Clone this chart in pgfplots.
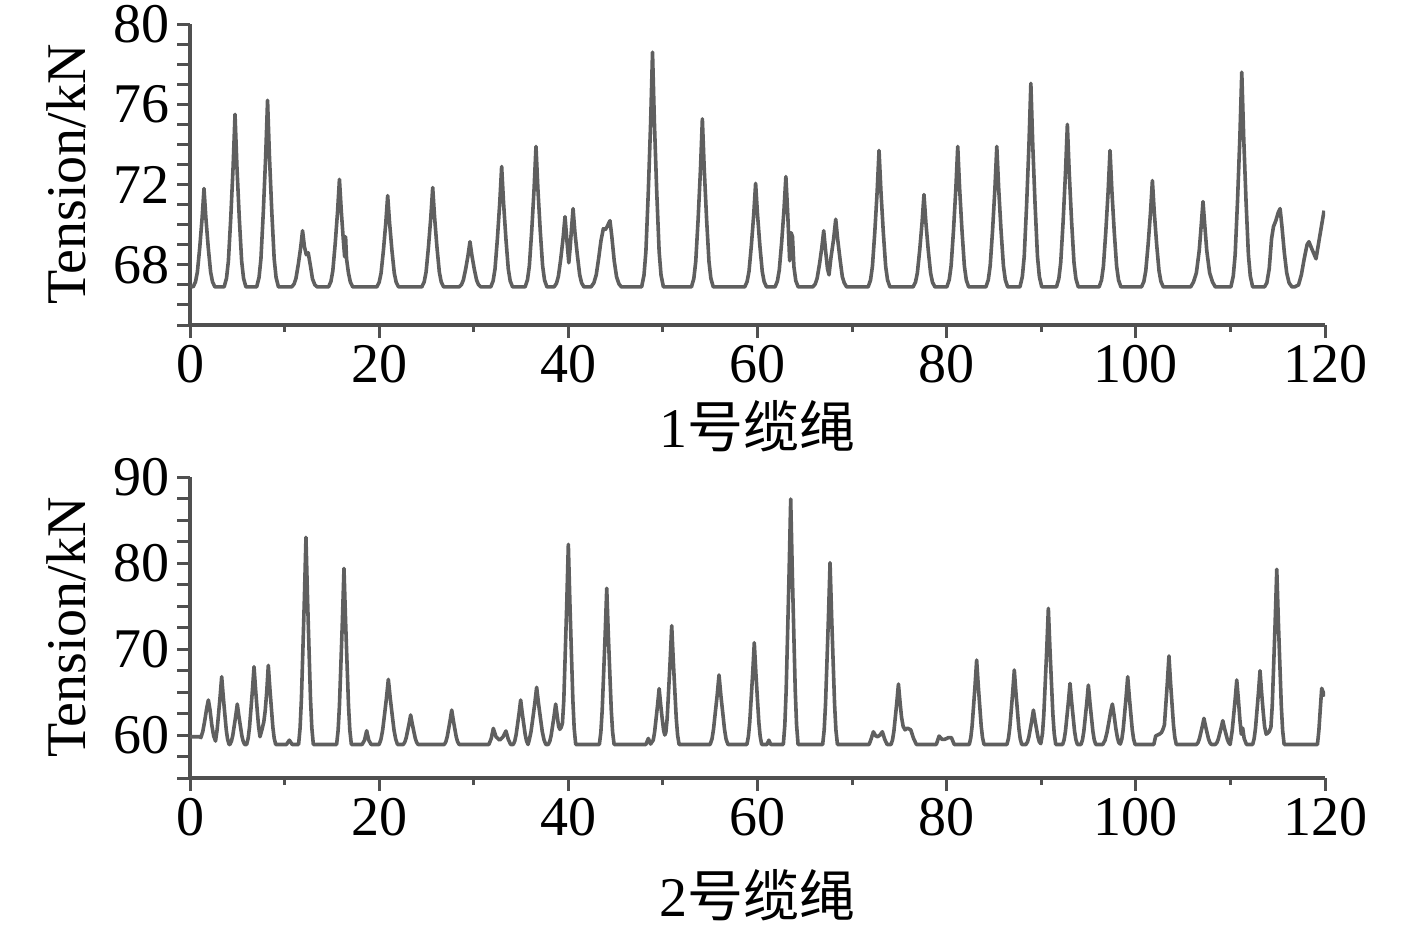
\documentclass[border=0pt]{standalone}
\usepackage{fontspec}
\setmainfont{Liberation Serif}
\newfontfamily\cjk{Noto Sans CJK SC}
\usepackage{pgfplots}
\pgfplotsset{compat=1.18}
\definecolor{curve}{RGB}{95,95,95}
\definecolor{axc}{RGB}{80,80,80}
\pgfplotsset{myaxis/.style={
  scale only axis, width=567.5pt, height=150.5pt,
  xmin=0, xmax=120, axis x line*=bottom, axis y line*=left,
  axis line style={axc, line width=1.8pt},
  tick align=outside, major tick length=6.5pt, minor tick length=3.5pt,
  tick style={axc, line width=1.5pt},
  xtick={0,20,40,60,80,100,120}, minor xtick={10,30,50,70,90,110},
  ticklabel style={font=\fontsize{28}{30}\selectfont, text=black},
  /pgf/number format/assume math mode=true,
  label style={font=\fontsize{28}{30}\selectfont},
  ylabel={Tension/kN}, ylabel shift=7pt,
}}
\begin{document}
\begin{tikzpicture}
\useasboundingbox (0,0) rectangle (708.5pt,-463.5pt);
\begin{axis}[myaxis, at={(95pt,-162.5pt)}, anchor=south west,
  ymin=65, ymax=80,
  ytick={65,66,67,68,69,70,71,72,73,74,75,76,77,78,79,80},
  yticklabels={,,,68,,,,72,,,,76,,,,80},
  xlabel shift=2pt,
  xlabel={1{\cjk 号缆绳}}]
\addplot[curve, line width=1.8pt, line join=round, no markers] coordinates {
(0,66.95) (0.33,66.9) (0.58,67.15) (0.78,67.64) (1.03,68.86) (1.28,70.33) (1.48,71.8) (1.68,70.33) (1.93,68.86) (2.18,67.64) (2.38,67.15) (2.63,66.9)
(3.61,66.9) (3.86,67.33) (4.06,68.19) (4.31,70.34) (4.56,72.92) (4.76,75.5) (4.96,72.92) (5.21,70.34) (5.46,68.19) (5.66,67.33) (5.91,66.9)
(7.05,66.9) (7.3,67.37) (7.5,68.3) (7.75,70.62) (8.0,73.41) (8.2,76.2) (8.4,73.41) (8.65,70.62) (8.9,68.3) (9.1,67.37) (9.35,66.9)
(10.75,66.9) (11.0,67.04) (11.2,67.32) (11.45,68.02) (11.7,68.86) (11.9,69.7) (12.1,68.9) (12.3,68.5) (12.5,68.6) (12.75,67.9) (12.95,67.3) (13.2,67.0) (13.45,66.9)
(14.65,66.9) (14.9,67.17) (15.1,67.7) (15.35,69.04) (15.6,70.65) (15.8,72.26) (16.0,70.65) (16.2,69.3) (16.35,68.4) (16.45,69.4) (16.55,68.3) (16.75,67.6) (16.95,67.15) (17.2,66.9)
(19.75,66.9) (20.0,67.13) (20.2,67.58) (20.45,68.72) (20.7,70.09) (20.9,71.45) (21.1,70.09) (21.35,68.72) (21.6,67.58) (21.8,67.13) (22.05,66.9)
(24.51,66.9) (24.76,67.15) (24.96,67.64) (25.21,68.88) (25.46,70.37) (25.66,71.85) (25.86,70.37) (26.11,68.88) (26.36,67.64) (26.56,67.15) (26.81,66.9)
(28.45,66.9) (28.7,67.01) (28.9,67.24) (29.15,67.8) (29.4,68.48) (29.6,69.15) (29.8,68.48) (30.05,67.8) (30.3,67.24) (30.5,67.01) (30.75,66.9)
(31.8,66.9) (32.05,67.2) (32.25,67.8) (32.5,69.3) (32.75,71.1) (32.95,72.9) (33.15,71.1) (33.4,69.3) (33.65,67.8) (33.85,67.2) (34.1,66.9)
(35.43,66.9) (35.68,67.25) (35.88,67.95) (36.13,69.7) (36.38,71.8) (36.58,73.9) (36.78,71.8) (37.03,69.7) (37.28,67.95) (37.48,67.25) (37.73,66.9)
(38.5,66.9) (38.75,67.08) (38.95,67.43) (39.2,68.3) (39.45,69.35) (39.65,70.4) (39.85,69.2) (40.05,68.1) (40.2,68.9) (40.35,69.9) (40.5,70.8) (40.7,69.6) (40.95,68.5) (41.2,67.5) (41.4,67.1) (41.65,66.9)
(42.4,66.9) (42.7,67.1) (42.95,67.5) (43.2,68.3) (43.45,69.2) (43.7,69.8) (43.9,69.75) (44.1,69.9) (44.4,70.2) (44.6,69.4) (44.85,68.2) (45.1,67.4) (45.35,67.05) (45.6,66.9)
(47.75,66.9) (48.0,67.49) (48.2,68.66) (48.45,71.58) (48.7,75.09) (48.9,78.6) (49.1,75.09) (49.35,71.58) (49.6,68.66) (49.8,67.49) (50.05,66.9)
(53.02,66.9) (53.27,67.32) (53.47,68.16) (53.72,70.25) (53.97,72.76) (54.17,75.27) (54.37,72.76) (54.62,70.25) (54.87,68.16) (55.07,67.32) (55.32,66.9)
(58.65,66.9) (58.9,67.16) (59.1,67.67) (59.35,68.96) (59.6,70.51) (59.8,72.06) (60.0,70.51) (60.25,68.96) (60.5,67.67) (60.7,67.16) (60.95,66.9)
(61.85,66.9) (62.1,67.18) (62.3,67.73) (62.55,69.1) (62.8,70.75) (63.0,72.4) (63.2,70.5) (63.4,68.2) (63.55,69.6) (63.7,69.4) (63.85,67.9) (64.05,67.2) (64.3,66.9)
(65.85,66.9) (66.1,67.04) (66.3,67.32) (66.55,68.02) (66.8,68.86) (67.0,69.7) (67.2,68.7) (67.4,67.8) (67.56,67.5) (67.75,68.3) (68.05,69.3) (68.27,70.27) (68.47,69.3) (68.72,68.3) (68.97,67.4) (69.17,67.1) (69.42,66.9)
(71.7,66.9) (71.95,67.24) (72.15,67.92) (72.4,69.62) (72.65,71.66) (72.85,73.7) (73.05,71.66) (73.3,69.62) (73.55,67.92) (73.75,67.24) (74.0,66.9)
(76.45,66.9) (76.7,67.13) (76.9,67.59) (77.15,68.74) (77.4,70.12) (77.6,71.5) (77.8,70.12) (78.05,68.74) (78.3,67.59) (78.5,67.13) (78.75,66.9)
(80.02,66.9) (80.27,67.25) (80.47,67.95) (80.72,69.7) (80.97,71.8) (81.17,73.9) (81.37,71.8) (81.62,69.7) (81.87,67.95) (82.07,67.25) (82.32,66.9)
(84.15,66.9) (84.4,67.25) (84.6,67.95) (84.85,69.7) (85.1,71.8) (85.3,73.9) (85.5,71.8) (85.75,69.7) (86.0,67.95) (86.2,67.25) (86.45,66.9)
(87.75,66.9) (88.0,67.41) (88.2,68.42) (88.45,70.96) (88.7,74.0) (88.9,77.04) (89.1,74.0) (89.35,70.96) (89.6,68.42) (89.8,67.41) (90.05,66.9)
(91.61,66.9) (91.86,67.31) (92.06,68.12) (92.31,70.14) (92.56,72.57) (92.76,75.0) (92.96,72.57) (93.21,70.14) (93.46,68.12) (93.66,67.31) (93.91,66.9)
(96.12,66.9) (96.37,67.24) (96.57,67.92) (96.82,69.62) (97.07,71.66) (97.27,73.7) (97.47,71.66) (97.72,69.62) (97.97,67.92) (98.17,67.24) (98.42,66.9)
(100.6,66.9) (100.85,67.17) (101.05,67.7) (101.3,69.02) (101.55,70.61) (101.75,72.2) (101.95,70.61) (102.2,69.02) (102.45,67.7) (102.65,67.17) (102.9,66.9)
(105.8,66.9) (106.1,67.15) (106.4,67.6) (106.7,68.7) (106.9,69.9) (107.1,71.15) (107.3,69.9) (107.5,68.7) (107.8,67.6) (108.1,67.15) (108.4,66.9)
(110.05,66.9) (110.3,67.44) (110.5,68.5) (110.75,71.18) (111.0,74.39) (111.2,77.6) (111.4,74.39) (111.65,71.18) (111.9,68.5) (112.1,67.44) (112.35,66.9)
(113.6,66.9) (113.85,67.1) (114.1,67.8) (114.35,69.3) (114.55,69.9) (114.8,70.2) (115.05,70.6) (115.25,70.8) (115.45,69.9) (115.7,68.6) (115.95,67.6) (116.2,67.1) (116.5,66.9) (116.8,66.9)
(117.2,67.0) (117.5,67.5) (117.8,68.3) (118.1,69.0) (118.3,69.15) (118.6,68.8) (119.05,68.3) (119.4,69.3) (119.9,70.7)
};
\end{axis}
\begin{axis}[myaxis, at={(95pt,-389pt)}, anchor=south west,
  ymin=55, ymax=90,
  ytick={55,57.5,60,62.5,65,67.5,70,72.5,75,77.5,80,82.5,85,87.5,90},
  yticklabels={,,60,,,,70,,,,80,,,,90},
  xlabel shift=10pt,
  xlabel={2{\cjk 号缆绳}}]
\addplot[curve, line width=1.8pt, line join=round, no markers] coordinates {
(0,59.8) (1.0,59.8) (1.15,59.7) (1.35,60.4) (1.55,61.6) (1.75,63.0) (1.94,64.07) (2.12,62.9) (2.3,61.2) (2.5,59.9) (2.7,59.3)
(2.87,60.63) (3.02,62.45) (3.18,64.42) (3.35,66.78) (3.52,64.42) (3.68,62.45) (3.83,60.63) (3.97,59.53) (4.13,58.9)
(4.22,58.9) (4.38,59.28) (4.52,59.93) (4.67,61.02) (4.83,62.19) (5.0,63.6) (5.17,62.19) (5.33,61.02) (5.48,59.93) (5.62,59.28) (5.78,58.9)
(5.99,58.9) (6.15,59.62) (6.29,60.89) (6.44,62.97) (6.6,65.23) (6.77,67.94) (6.94,65.23) (7.1,62.97) (7.25,61.0) (7.4,59.8)
(7.6,60.6) (7.8,61.5) (7.95,62.8) (8.11,65.0) (8.28,68.1) (8.45,65.34) (8.61,63.04) (8.76,60.92) (8.9,59.64) (9.06,58.9)
(10.2,58.9) (10.5,59.4) (10.8,58.9)
(11.48,58.9) (11.64,60.83) (11.78,64.2) (11.93,69.74) (12.09,75.76) (12.26,82.99) (12.43,75.76) (12.59,69.74) (12.74,64.2) (12.88,60.83) (13.04,58.9)
(15.5,58.9) (15.66,60.54) (15.8,63.41) (15.95,68.12) (16.11,73.24) (16.28,79.38) (16.45,73.24) (16.61,68.12) (16.76,63.41) (16.9,60.54) (17.06,58.9)
(18.2,58.9) (18.45,59.4) (18.68,60.5) (18.9,59.4) (19.15,58.9)
(20.0,58.9) (20.19,59.51) (20.37,60.57) (20.56,62.31) (20.76,64.2) (20.97,66.47) (21.18,64.2) (21.38,62.31) (21.57,60.57) (21.75,59.51) (21.94,58.9)
(22.55,58.9) (22.71,59.17) (22.85,59.65) (23.0,60.44) (23.16,61.3) (23.33,62.33) (23.5,61.3) (23.66,60.44) (23.81,59.65) (23.95,59.17) (24.11,58.9)
(26.89,58.9) (27.05,59.22) (27.19,59.78) (27.34,60.7) (27.5,61.7) (27.67,62.9) (27.84,61.7) (28.0,60.7) (28.15,59.78) (28.29,59.22) (28.45,58.9)
(31.6,58.9) (31.85,59.6) (32.07,60.77) (32.35,59.8) (32.75,59.4) (33.1,59.8) (33.4,60.47) (33.65,59.5) (33.9,58.9)
(34.18,58.9) (34.34,59.31) (34.48,60.04) (34.63,61.23) (34.79,62.52) (34.96,64.07) (35.13,62.52) (35.29,61.23) (35.44,60.04) (35.58,59.31) (35.74,58.9)
(35.87,59.43) (36.05,60.36) (36.24,61.89) (36.44,63.56) (36.65,65.55) (36.86,63.56) (37.06,61.89) (37.25,60.36) (37.43,59.43) (37.62,58.9)
(37.88,58.9) (38.04,59.28) (38.18,59.93) (38.33,61.02) (38.49,62.19) (38.66,63.6) (38.83,62.19) (38.97,61.0) (39.1,60.66)
(39.25,60.9) (39.38,61.4) (39.52,64.02) (39.67,69.37) (39.83,75.19) (40.0,82.17) (40.17,75.19) (40.33,69.37) (40.48,64.02) (40.62,60.76) (40.78,58.9)
(43.28,58.9) (43.44,60.35) (43.58,62.9) (43.73,67.07) (43.89,71.61) (44.06,77.06) (44.23,71.61) (44.39,67.07) (44.54,62.9) (44.68,60.35) (44.84,58.9)
(48.2,58.9) (48.46,59.6) (48.7,58.95)
(48.98,59.42) (49.12,60.33) (49.27,61.83) (49.43,63.45) (49.6,65.4) (49.77,63.45) (49.93,61.83) (50.08,60.5) (50.2,60.0)
(50.31,60.3) (50.45,61.94) (50.6,65.11) (50.76,68.57) (50.93,72.71) (51.1,68.57) (51.26,65.11) (51.41,61.94) (51.55,60.0) (51.71,58.9)
(54.99,58.9) (55.19,59.55) (55.35,60.68) (55.53,62.54) (55.73,64.56) (55.93,66.98) (56.13,64.56) (56.33,62.54) (56.51,60.68) (56.67,59.55) (56.87,58.9)
(58.88,58.9) (59.04,59.85) (59.18,61.5) (59.33,64.22) (59.49,67.18) (59.66,70.73) (59.83,67.18) (59.99,64.22) (60.14,61.5) (60.28,59.85) (60.44,58.9)
(61.0,58.9) (61.2,59.4) (61.4,58.9)
(62.73,58.9) (62.89,61.18) (63.03,65.18) (63.18,71.74) (63.34,78.88) (63.51,87.44) (63.68,78.88) (63.84,71.74) (63.99,65.18) (64.13,61.18) (64.29,58.9)
(66.89,58.9) (67.05,60.59) (67.19,63.55) (67.34,68.41) (67.5,73.7) (67.67,80.04) (67.84,73.7) (68.0,68.41) (68.15,63.55) (68.29,60.59) (68.45,58.9)
(71.8,58.9) (72.0,59.5) (72.25,60.38) (72.5,59.9) (72.7,59.8) (72.95,60.0) (73.2,60.38) (73.45,59.5) (73.7,58.9)
(74.12,58.9) (74.28,59.46) (74.42,60.45) (74.57,62.06) (74.73,63.82) (74.9,65.93) (75.07,63.82) (75.23,62.06) (75.4,61.0) (75.6,60.6) (75.85,60.8) (76.2,60.6) (76.5,59.6) (76.8,58.9)
(78.9,58.9) (79.2,59.88) (79.5,59.5) (79.8,59.5) (80.2,59.7) (80.5,59.7) (80.8,58.9)
(82.39,58.9) (82.55,59.69) (82.69,61.06) (82.84,63.32) (83.0,65.77) (83.17,68.72) (83.34,65.77) (83.5,63.32) (83.65,61.06) (83.79,59.69) (83.95,58.9)
(86.37,58.9) (86.53,59.59) (86.67,60.81) (86.82,62.8) (86.98,64.96) (87.15,67.56) (87.32,64.96) (87.48,62.8) (87.63,60.81) (87.77,59.59) (87.93,58.9)
(88.39,58.9) (88.55,59.22) (88.69,59.78) (88.84,60.7) (89.0,61.7) (89.17,62.9) (89.34,61.7) (89.5,60.7) (89.65,59.78) (89.79,59.22) (89.95,59.0)
(90.13,60.17) (90.27,62.38) (90.42,66.02) (90.58,69.98) (90.75,74.73) (90.92,69.98) (91.08,66.02) (91.23,62.38) (91.37,60.17) (91.53,58.9)
(92.26,58.9) (92.42,59.47) (92.56,60.46) (92.71,62.1) (92.87,63.87) (93.04,66.0) (93.21,63.87) (93.37,62.1) (93.52,60.46) (93.66,59.47) (93.82,58.9)
(94.2,58.9) (94.36,59.45) (94.5,60.42) (94.65,62.01) (94.81,63.74) (94.98,65.81) (95.15,63.74) (95.31,62.01) (95.46,60.42) (95.6,59.45) (95.76,58.9)
(96.5,58.9) (96.75,59.4) (96.95,60.3) (97.15,61.5) (97.35,62.8) (97.52,63.6) (97.7,62.3) (97.88,60.8) (98.05,59.7) (98.2,59.1)
(98.36,58.95) (98.52,59.53) (98.66,60.63) (98.81,62.45) (98.97,64.42) (99.14,66.78) (99.31,64.42) (99.47,62.45) (99.62,60.63) (99.76,59.53) (99.92,58.9)
(101.9,58.9) (102.1,59.9) (102.5,60.1) (102.72,60.3)
(102.88,60.7) (103.02,61.16) (103.17,63.53) (103.33,66.1) (103.5,69.19) (103.67,66.1) (103.83,63.53) (103.98,61.16) (104.12,59.72) (104.28,58.9)
(106.42,58.9) (106.58,59.14) (106.72,59.57) (106.87,60.27) (107.03,61.03) (107.2,61.94) (107.37,61.03) (107.53,60.27) (107.68,59.57) (107.82,59.14) (107.98,58.9)
(108.41,58.9) (108.57,59.12) (108.71,59.51) (108.86,60.15) (109.02,60.84) (109.19,61.67) (109.36,60.84) (109.52,60.15) (109.67,59.51) (109.81,59.12) (109.97,58.9)
(110.05,59.5) (110.19,60.55) (110.34,62.28) (110.5,64.15) (110.67,66.4) (110.84,64.15) (111.0,61.8) (111.15,60.1) (111.3,60.8) (111.45,59.6) (111.7,58.9)
(112.35,58.9) (112.51,59.59) (112.65,60.79) (112.8,62.76) (112.96,64.9) (113.13,67.48) (113.3,64.9) (113.46,62.76) (113.61,61.0) (113.78,60.1) (113.92,60.2)
(114.1,60.4) (114.28,60.9) (114.42,63.38) (114.57,68.07) (114.73,73.16) (114.9,79.27) (115.07,73.16) (115.23,68.07) (115.38,63.38) (115.52,60.53) (115.68,58.9)
(119.2,58.9) (119.35,60.5) (119.5,63.0) (119.65,65.43) (119.8,65.0) (120,64.5)
};
\end{axis}
\end{tikzpicture}
\end{document}
